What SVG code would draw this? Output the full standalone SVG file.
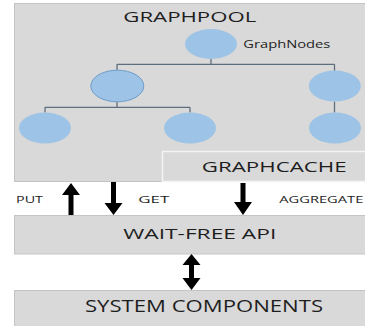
<svg xmlns="http://www.w3.org/2000/svg" width="365" height="326" viewBox="0 0 365 326">
  <style>
    .panel { fill: #d9d9d9; stroke: #c4c4c4; stroke-width: 1; }
    .inner { fill: #d9d9d9; stroke: #f4f4f4; stroke-width: 1.5; }
    .node { fill: #9dc3e6; }
    .sel { stroke: #6e9cc9; stroke-width: 1; }
    .tree { fill: none; stroke: #5f6e7e; stroke-width: 1.3; }
    .arrow { fill: #000; }
    text { font-family: "Open Sans", "Liberation Sans", sans-serif; fill: #1e1e1e; }
    .big { font-size: 15px; }
    .small { font-size: 8.5px; }
  </style>
  <rect width="365" height="326" fill="#ffffff"/>

  <!-- layered boxes -->
  <g id="graphpool">
    <rect class="panel" x="14.5" y="3.5" width="360" height="178"/>
    <text class="big" x="123.3" y="22.3" textLength="133" lengthAdjust="spacingAndGlyphs">GRAPHPOOL</text>
  </g>
  <g id="graphcache">
    <rect class="inner" x="162.5" y="151.5" width="210" height="30"/>
    <text class="big" x="201.7" y="171.7" textLength="145" lengthAdjust="spacingAndGlyphs">GRAPHCACHE</text>
  </g>
  <g id="waitfree-api">
    <rect class="panel" x="14.5" y="215.5" width="360" height="38.5"/>
    <text class="big" x="123.3" y="239" textLength="153" lengthAdjust="spacingAndGlyphs">WAIT-FREE API</text>
  </g>
  <g id="system-components">
    <rect class="panel" x="14.5" y="290.5" width="360" height="45"/>
    <text x="85" y="311.7" font-size="16" textLength="238" lengthAdjust="spacingAndGlyphs">SYSTEM COMPONENTS</text>
  </g>

  <!-- tree connectors -->
  <g id="tree-edges">
    <path class="tree" d="M211 59 V64.3 M117 64.3 H334.5 M117 64.3 V70 M334.5 64.3 V71"/>
    <path class="tree" d="M117 102 V107.3 M45 107.3 H190 M45 107.3 V112.5 M190 107.3 V112.5"/>
    <path class="tree" d="M334.5 101.5 V112.5"/>
  </g>

  <!-- graph nodes -->
  <g id="node-root"><ellipse class="node" cx="211" cy="44" rx="26" ry="15"/></g>
  <g id="node-l1a"><ellipse class="node sel" cx="117.3" cy="86" rx="26.5" ry="15.8"/></g>
  <g id="node-l1b"><ellipse class="node" cx="334.8" cy="86" rx="26" ry="15.5"/></g>
  <g id="node-l2a"><ellipse class="node" cx="45" cy="128" rx="26" ry="15.5"/></g>
  <g id="node-l2b"><ellipse class="node" cx="190" cy="128" rx="26" ry="15.5"/></g>
  <g id="node-l2c"><ellipse class="node" cx="335" cy="128" rx="26" ry="15.5"/></g>
  <g id="label-graphnodes">
    <text x="243.3" y="47.7" font-size="11" textLength="87" lengthAdjust="spacingAndGlyphs">GraphNodes</text>
  </g>

  <!-- operation arrows -->
  <g id="flows">
    <polygon class="arrow" points="71,183 80,195 73.5,195 73.5,215 68.5,215 68.5,195 62,195"/>
    <polygon class="arrow" points="111,182 116,182 116,203 122.5,203 113.5,215 104.5,203 111,203"/>
    <polygon class="arrow" points="240.5,183 245.5,183 245.5,202 252,202 243,215 234,202 240.5,202"/>
    <polygon class="arrow" points="191.5,254 200.5,265 194,265 194,278 200.5,278 191.5,290 182.5,278 189,278 189,265 182.5,265"/>
  </g>
  <g id="flow-labels">
    <text class="small" x="16" y="203.3" textLength="27" lengthAdjust="spacingAndGlyphs">PUT</text>
    <text class="small" x="138.3" y="203.3" textLength="31" lengthAdjust="spacingAndGlyphs">GET</text>
    <text class="small" x="279.3" y="203.3" textLength="84" lengthAdjust="spacingAndGlyphs">AGGREGATE</text>
  </g>
</svg>
